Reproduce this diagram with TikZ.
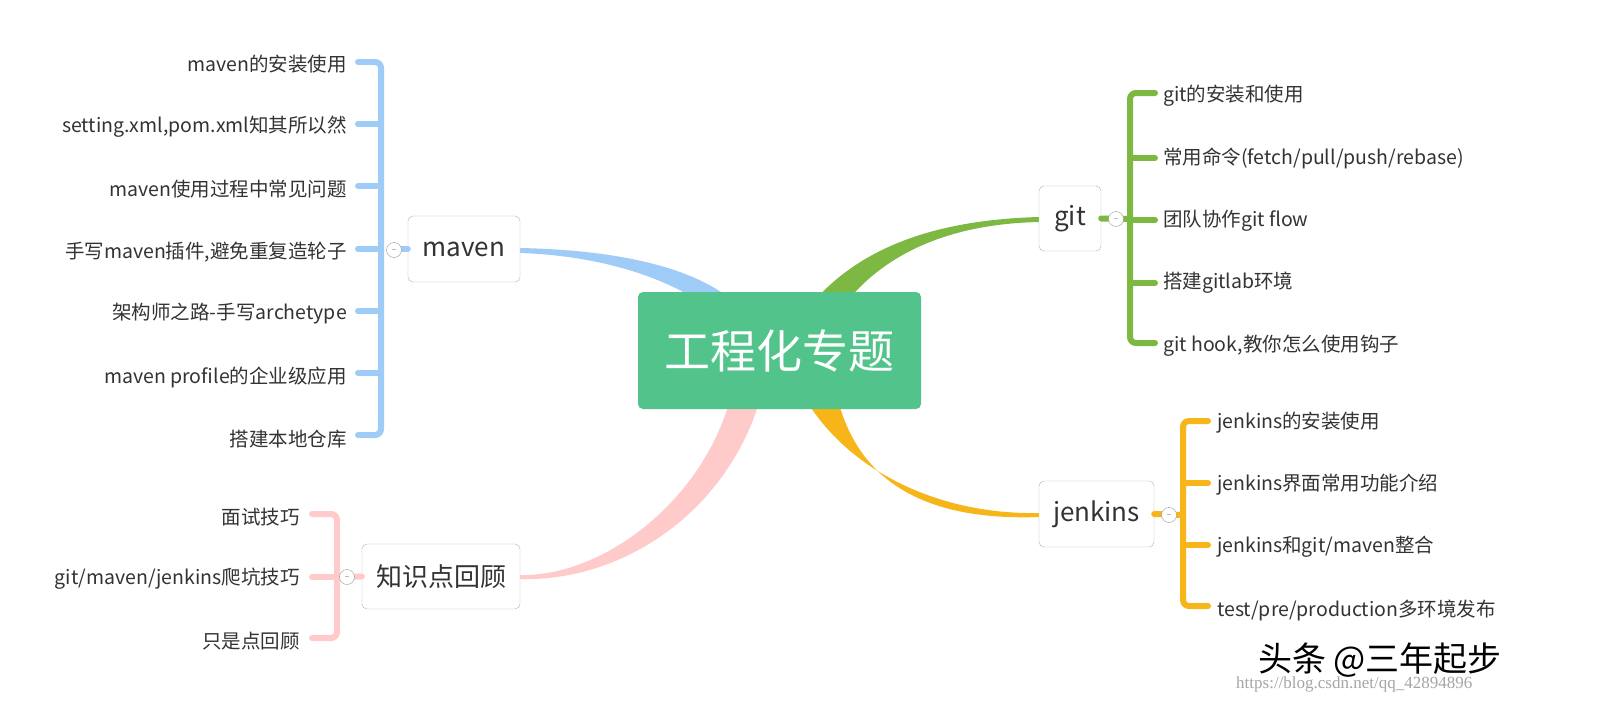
\documentclass[tikz,border=0pt]{standalone}
\usepackage{fontspec}
\setmainfont{Noto Sans CJK SC}
\newfontfamily\urlfont{Liberation Serif}
\definecolor{cblue}{HTML}{9FCBF7}
\definecolor{cpink}{HTML}{FFCACA}
\definecolor{cgreen}{HTML}{7DB843}
\definecolor{corange}{HTML}{F6B619}
\definecolor{cmain}{HTML}{52C48B}
\definecolor{ctext}{HTML}{333333}
\begin{document}
\begin{tikzpicture}[x=1pt,y=-1pt,
  leaf/.style={font=\fontsize{19.5}{20}\selectfont,text=ctext,inner sep=0pt},
  lleaf/.style={leaf,anchor=east},
  rleaf/.style={leaf,anchor=west},
  topic/.style={draw=black!30,rounded corners=5pt,fill=white,font=\fontsize{26}{28}\selectfont,text=ctext,inner sep=0pt},
  brk/.style={line width=6pt,rounded corners=6pt,line cap=round},
  tick/.style={line width=6pt,line cap=round},
  coll/.style={circle,draw=black!40,fill=white,minimum size=15pt,inner sep=0pt}]
\useasboundingbox[fill=white] (0,0) rectangle (1606,720);
% main branches
\fill[cblue] (520,248) .. controls (620,250) and (690,268) .. (728,297) -- (700,302) .. controls (670,282) and (610,256) .. (520,253) -- cycle;
\fill[cgreen] (1039,217) .. controls (930,220) and (860,250) .. (815,300) -- (848,300) .. controls (885,256) and (945,224) .. (1039,222) -- cycle;
\fill[corange] (806,400) .. controls (850,472) and (940,515) .. (1039,513) -- (1039,517) .. controls (930,521) and (860,485) .. (838,400) -- cycle;
\fill[cpink] (730,400) .. controls (700,505) and (600,577) .. (520,575) -- (520,579) .. controls (620,582) and (725,515) .. (760,400) -- cycle;
% center
\node[fill=cmain,rounded corners=5pt,minimum width=283pt,minimum height=117pt,text=white,font=\fontsize{46}{50}\selectfont] (c) at (779.5,350.5) {工程化专题};
% topics
\node[topic,minimum width=112pt,minimum height=66pt] (mv) at (464,249) {maven};
\node[topic,minimum width=158pt,minimum height=65pt] (zs) at (441,576.5) {知识点回顾};
\node[topic,minimum width=62pt,minimum height=65pt] (git) at (1070,218.5) {git};
\node[topic,minimum width=115pt,minimum height=66pt] (jk) at (1096.5,514) {jenkins};
% maven
\draw[cblue,brk] (370,62) -- (381,62) -- (381,435) -- (370,435);
\foreach \y in {124,186,249,311,373} \draw[cblue,tick] (358,\y) -- (381,\y);
\draw[cblue,tick] (358,62) -- (370,62);\draw[cblue,tick] (358,435) -- (370,435);
\draw[cblue,tick] (394,249) -- (mv.west);
\node[coll] (mc) at (394,250) {\tiny$-$};
\node[lleaf] (m1) at (347,64) {maven的安装使用};
\node[lleaf] (m2) at (347,127) {setting.xml,pom.xml知其所以然};
\node[lleaf] (m3) at (347,189) {maven使用过程中常见问题};
\node[lleaf] (m4) at (347,252) {手写maven插件,避免重复造轮子};
\node[lleaf] (m5) at (347,314) {架构师之路-手写archetype};
\node[lleaf] (m6) at (347,377) {maven profile的企业级应用};
\node[lleaf] (m7) at (347,439) {搭建本地仓库};
% zs
\draw[cpink,brk] (312,514) -- (337,514) -- (337,638) -- (312,638);
\draw[cpink,tick] (312,577) -- (337,577);
\draw[cpink,tick] (347,577) -- (zs.west);
\node[coll] (zc) at (347,577) {\tiny$-$};
\node[lleaf] (z1) at (300,517) {面试技巧};
\node[lleaf] (z2) at (300,579) {git/maven/jenkins爬坑技巧};
\node[lleaf] (z3) at (300,641) {只是点回顾};
% git
\draw[cgreen,brk] (1155,93) -- (1130,93) -- (1130,343) -- (1155,343);
\foreach \y in {158,220,283} \draw[cgreen,tick] (1130,\y) -- (1155,\y);
\draw[cgreen,tick] (git.east) -- (1130,219);
\node[coll] (gc) at (1116,219) {\tiny$-$};
\node[rleaf] (g1) at (1163,96) {git的安装和使用};
\node[rleaf] (g2) at (1163,158) {常用命令(fetch/pull/push/rebase)};
\node[rleaf] (g3) at (1163,221) {团队协作git flow};
\node[rleaf] (g4) at (1163,283) {搭建gitlab环境};
\node[rleaf] (g5) at (1163,346) {git hook,教你怎么使用钩子};
% jenkins
\draw[corange,brk] (1208,421) -- (1183,421) -- (1183,606) -- (1208,606);
\foreach \y in {483,545} \draw[corange,tick] (1183,\y) -- (1208,\y);
\draw[corange,tick] (jk.east) -- (1183,515);
\node[coll] (jc) at (1169,515) {\tiny$-$};
\node[rleaf] (j1) at (1217,423) {jenkins的安装使用};
\node[rleaf] (j2) at (1217,485) {jenkins界面常用功能介绍};
\node[rleaf] (j3) at (1217,547) {jenkins和git/maven整合};
\node[rleaf] (j4) at (1217,610) {test/pre/production多环境发布};
% watermark
\node[font=\fontsize{34}{36}\selectfont,anchor=west,inner sep=0pt] (wm) at (1258,660) {头条 @三年起步};
\node[font=\urlfont\fontsize{17}{18}\selectfont,text=black!35,anchor=west,inner sep=0pt] (url) at (1236,684) {https://blog.csdn.net/qq\_42894896};
\end{tikzpicture}
\end{document}
